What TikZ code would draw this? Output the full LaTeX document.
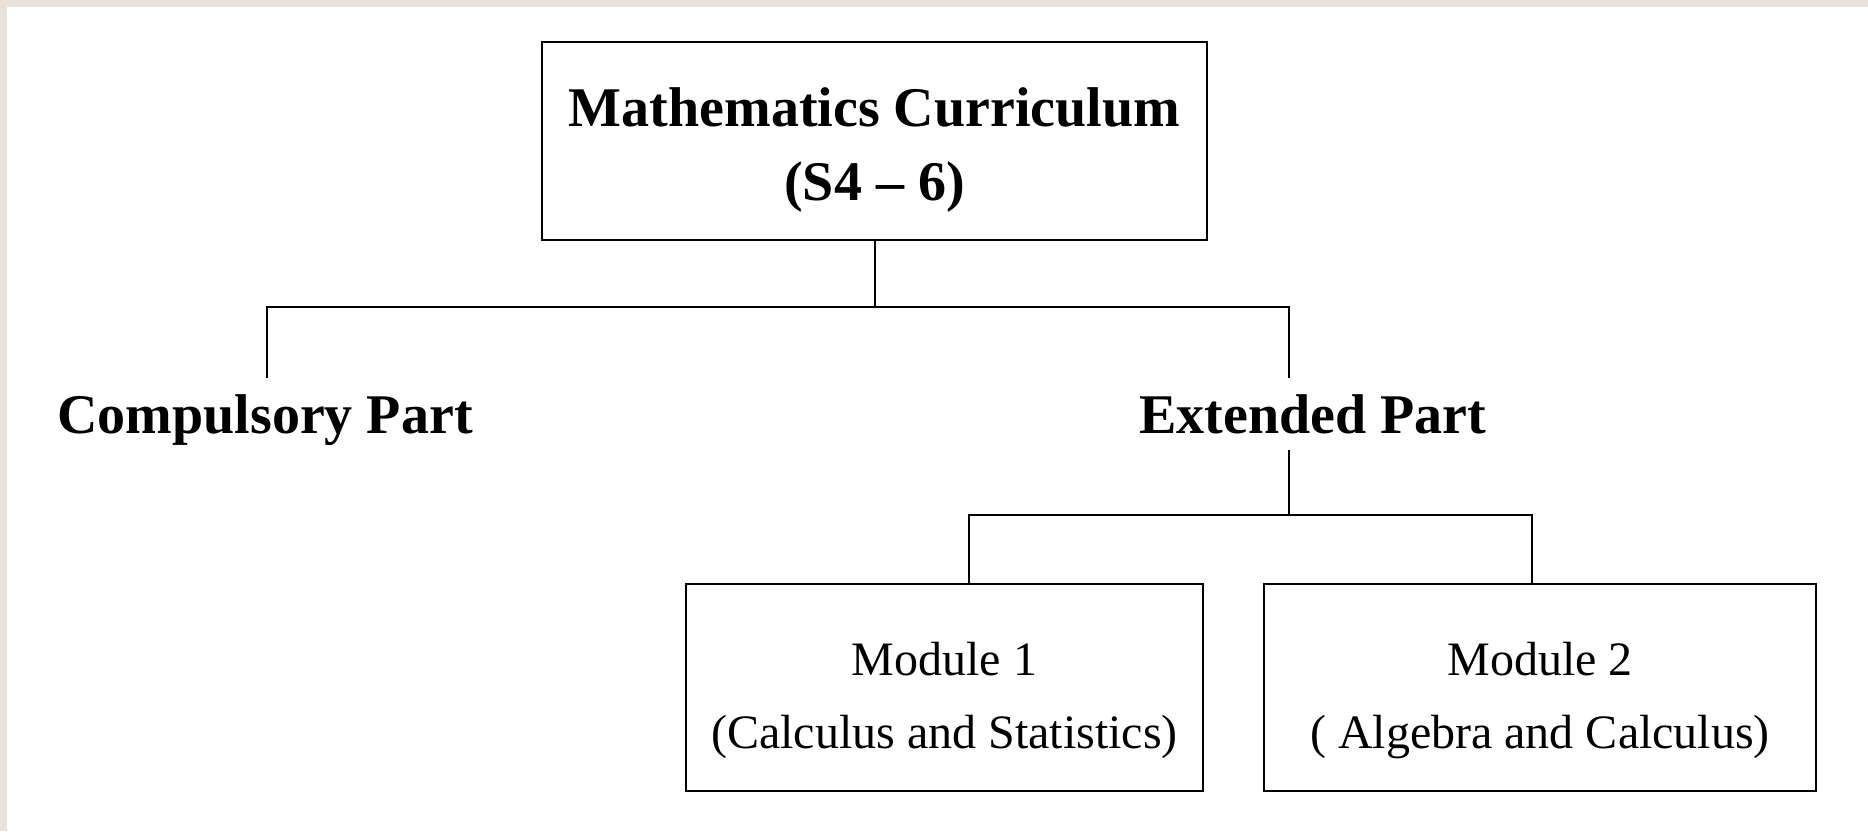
\documentclass[tikz,border=0pt]{standalone}
\usepackage{fontspec}
\setmainfont{Liberation Serif}
\definecolor{parch}{HTML}{E8E2DA}
\begin{document}
\begin{tikzpicture}[x=0.5pt,y=-0.5pt,
  boxnode/.style={draw=black, line width=1.2pt, rectangle, inner sep=0pt},
  titletext/.style={font=\bfseries\fontsize{28}{33}\selectfont, inner sep=0pt, anchor=base},
  parttext/.style={font=\bfseries\fontsize{28}{33}\selectfont, inner xsep=0pt, inner ysep=8.5pt, text height=19pt, text depth=0pt, anchor=base},
  modtext/.style={font=\fontsize{24}{29}\selectfont, inner sep=0pt, anchor=base},
  link/.style={draw=black, line width=1pt}]
\useasboundingbox (0,0) rectangle (1868,831);
\fill[white] (0,0) rectangle (1868,831);
\fill[parch] (0,0) rectangle (1868,7);
\fill[parch] (0,0) rectangle (7,831);

% top box
\node[boxnode, minimum width=332.5pt, minimum height=99pt] (top) at (874.5,141) {};
\node[titletext] (t1) at (874.5,126) {Mathematics Curriculum};
\node[titletext] (t2) at (874.5,200) {(S4 – 6)};

% parts
\node[parttext] (comp) at (265,433) {Compulsory Part};
\node[parttext] (ext) at (1313,433) {Extended Part};

% module boxes
\node[boxnode, minimum width=258.5pt, minimum height=103.5pt] (m1) at (944.5,687.5) {};
\node[modtext] (m1a) at (944.5,675) {Module 1};
\node[modtext] (m1b) at (944.5,748) {(Calculus and Statistics)};
\node[boxnode, minimum width=276pt, minimum height=103.5pt] (m2) at (1540,687.5) {};
\node[modtext] (m2a) at (1540,675) {Module 2};
\node[modtext] (m2b) at (1540,748) {( Algebra and Calculus)};

% junctions
\coordinate (busL) at (267,307);
\coordinate (busR) at (1289,307);
\coordinate (bus2L) at (969,515);
\coordinate (bus2R) at (1532,515);

% connectors
\draw[link] (top.south) -- (top.south |- busL);
\draw[link] (busL |- comp.north) -- (busL) -- (busR) -- (busR |- ext.north);
\draw[link] (busR |- ext.south) -- (busR |- bus2L);
\draw[link] (bus2L |- m1.north) -- (bus2L) -- (bus2R) -- (bus2R |- m2.north);
\end{tikzpicture}
\end{document}
